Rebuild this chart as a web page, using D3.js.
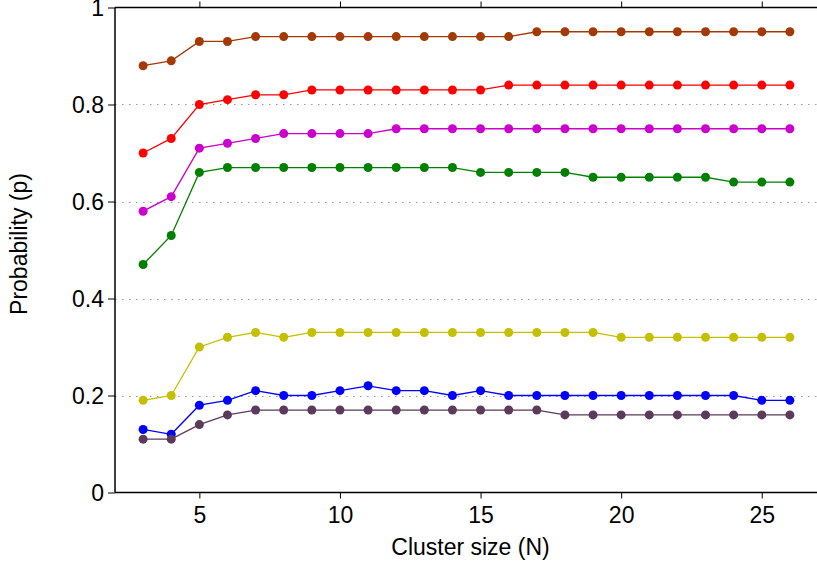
<!DOCTYPE html>
<html>
<head>
<meta charset="utf-8">
<script src="https://cdn.jsdelivr.net/npm/d3@7"></script>
<style>
  html, body { margin: 0; padding: 0; background: #fff; }
  svg { display: block; font-family: "Liberation Sans", Arial, Helvetica, sans-serif; }
</style>
</head>
<body>
<svg id="chart" width="817" height="566"></svg>
<script>
// Cluster sizes on the x axis
const clusterSizes = d3.range(3, 27);

// Probability per cluster size, one array per series
const seriesBrown   = [0.88,0.89,0.93,0.93,0.94,0.94,0.94,0.94,0.94,0.94,0.94,0.94,0.94,0.94,0.95,0.95,0.95,0.95,0.95,0.95,0.95,0.95,0.95,0.95];
const seriesRed     = [0.70,0.73,0.80,0.81,0.82,0.82,0.83,0.83,0.83,0.83,0.83,0.83,0.83,0.84,0.84,0.84,0.84,0.84,0.84,0.84,0.84,0.84,0.84,0.84];
const seriesMagenta = [0.58,0.61,0.71,0.72,0.73,0.74,0.74,0.74,0.74,0.75,0.75,0.75,0.75,0.75,0.75,0.75,0.75,0.75,0.75,0.75,0.75,0.75,0.75,0.75];
const seriesGreen   = [0.47,0.53,0.66,0.67,0.67,0.67,0.67,0.67,0.67,0.67,0.67,0.67,0.66,0.66,0.66,0.66,0.65,0.65,0.65,0.65,0.65,0.64,0.64,0.64];
const seriesYellow  = [0.19,0.20,0.30,0.32,0.33,0.32,0.33,0.33,0.33,0.33,0.33,0.33,0.33,0.33,0.33,0.33,0.33,0.32,0.32,0.32,0.32,0.32,0.32,0.32];
const seriesBlue    = [0.13,0.12,0.18,0.19,0.21,0.20,0.20,0.21,0.22,0.21,0.21,0.20,0.21,0.20,0.20,0.20,0.20,0.20,0.20,0.20,0.20,0.20,0.19,0.19];
const seriesPurple  = [0.11,0.11,0.14,0.16,0.17,0.17,0.17,0.17,0.17,0.17,0.17,0.17,0.17,0.17,0.17,0.16,0.16,0.16,0.16,0.16,0.16,0.16,0.16,0.16];

const xTicks = [5, 10, 15, 20, 25];
const yTicks = [0, 0.2, 0.4, 0.6, 0.8, 1];
const gridTicks = [0.2, 0.4, 0.6, 0.8];

const series = [
  { values: seriesBrown,   color: "#a33a06" },
  { values: seriesRed,     color: "#ff0000" },
  { values: seriesMagenta, color: "#cc00cc" },
  { values: seriesGreen,   color: "#008000" },
  { values: seriesYellow,  color: "#c4bf00" },
  { values: seriesBlue,    color: "#0000ff" },
  { values: seriesPurple,  color: "#5b3a5b" }
];

const svg = d3.select("#chart");
const plotLeft = 115, plotRight = 818, plotTop = 7.5, plotBottom = 492.5;

const x = d3.scaleLinear().domain([2, 27]).range([plotLeft, plotRight]);
const y = d3.scaleLinear().domain([0, 1]).range([plotBottom, plotTop]);

// dotted horizontal grid
svg.append("g")
  .selectAll("line")
  .data(gridTicks)
  .join("line")
  .attr("x1", plotLeft).attr("x2", plotRight)
  .attr("y1", d => Math.round(y(d)) + 0.5).attr("y2", d => Math.round(y(d)) + 0.5)
  .attr("stroke", "#999")
  .attr("stroke-width", 1)
  .attr("stroke-dasharray", "1.5,5.5");

const fmt = d => d === 0 ? "0" : d === 1 ? "1" : d3.format(".1f")(d);

// axes
const gx = svg.append("g").attr("transform", `translate(0,${plotBottom})`)
  .call(d3.axisBottom(x).tickValues(xTicks).tickSize(6).tickPadding(8));
const gxTop = svg.append("g").attr("transform", `translate(0,${plotTop})`)
  .call(d3.axisTop(x).tickValues(xTicks).tickSize(6).tickFormat(""));
const gy = svg.append("g").attr("transform", `translate(${plotLeft},0)`)
  .call(d3.axisLeft(y).tickValues(yTicks).tickSize(7).tickPadding(4).tickFormat(fmt));

[gx, gxTop, gy].forEach(g => {
  g.select(".domain").attr("stroke", "#000").attr("stroke-width", 1.5);
  g.selectAll(".tick line").attr("stroke", "#000").attr("stroke-width", 1);
  g.selectAll(".tick text").attr("fill", "#000").style("font-size", "23px")
    .style("font-family", "'Liberation Sans', Arial, sans-serif");
});
gx.select(".domain").attr("d", `M${plotLeft},0H${plotRight}`);
gxTop.select(".domain").attr("d", `M${plotLeft},0H${plotRight}`);
gy.select(".domain").attr("d", `M0,${plotBottom}V${plotTop}`);
gy.selectAll(".tick text").attr("dy", "0.36em");

// lines and markers
const line = d3.line()
  .x((d, i) => x(clusterSizes[i]))
  .y(d => y(d));

series.forEach(s => {
  svg.append("path")
    .datum(s.values)
    .attr("d", line)
    .attr("fill", "none")
    .attr("stroke", s.color)
    .attr("stroke-width", 1.3);
  svg.append("g")
    .selectAll("circle")
    .data(s.values)
    .join("circle")
    .attr("cx", (d, i) => x(clusterSizes[i]))
    .attr("cy", d => y(d))
    .attr("r", 4.5)
    .attr("fill", s.color);
});

// axis titles
svg.append("text")
  .attr("x", (plotLeft + plotRight) / 2 + 4)
  .attr("y", 555)
  .attr("text-anchor", "middle")
  .style("font-size", "23px")
  .attr("fill", "#000")
  .text("Cluster size (N)");

svg.append("text")
  .attr("transform", `translate(27,244) rotate(-90)`)
  .attr("text-anchor", "middle")
  .style("font-size", "23px")
  .attr("fill", "#000")
  .text("Probability (p)");
</script>
</body>
</html>
